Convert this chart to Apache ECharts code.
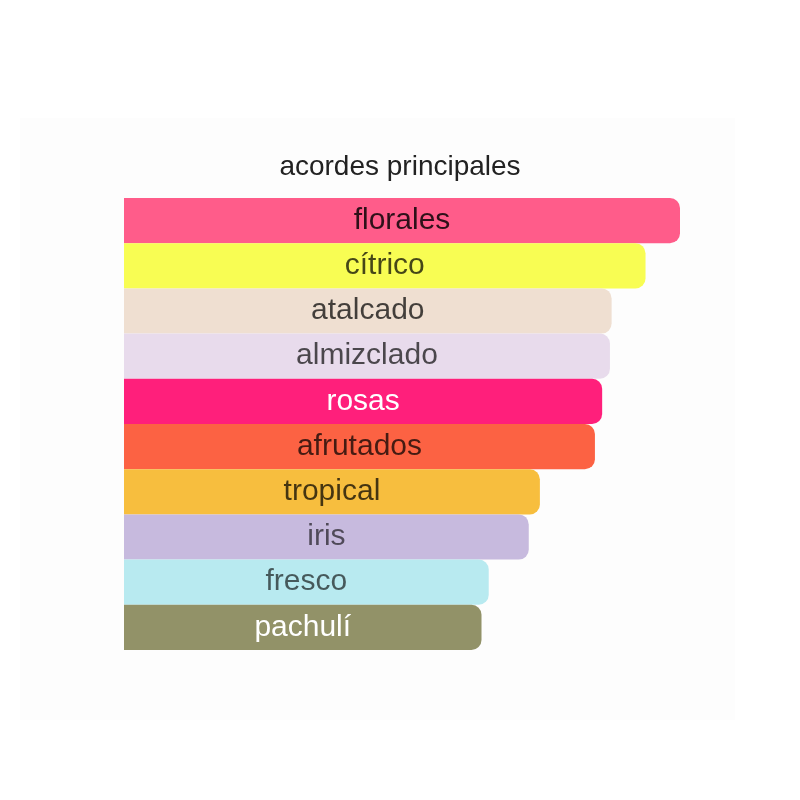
<!DOCTYPE html>
<html>
<head>
<meta charset="utf-8">
<script src="https://cdn.jsdelivr.net/npm/echarts@6/dist/echarts.min.js"></script>
<style>
  html, body { margin: 0; padding: 0; background: #ffffff; }
  #chart { width: 800px; height: 800px; }
</style>
</head>
<body>
<div id="chart"></div>
<script>
const titleText = 'acordes principales';
const categories = ['florales', 'cítrico', 'atalcado', 'almizclado', 'rosas', 'afrutados', 'tropical', 'iris', 'fresco', 'pachulí'];
const values = [100, 93.8, 87.7, 87.4, 86.0, 84.7, 74.8, 72.8, 65.6, 64.3];
const barColors = ['#FF5C8A', '#F8FD53', '#EFDFD1', '#E8DBEC', '#FF1F7B', '#FC6243', '#F7BE3E', '#C7BADE', '#B8EAF0', '#929268'];
const labelColors = ['rgba(0,0,0,0.82)', 'rgba(0,0,0,0.72)', 'rgba(0,0,0,0.72)', 'rgba(0,0,0,0.68)', '#ffffff', 'rgba(0,0,0,0.72)', 'rgba(0,0,0,0.72)', 'rgba(0,0,0,0.6)', 'rgba(0,0,0,0.62)', '#ffffff'];

const chart = echarts.init(document.getElementById('chart'), null, { renderer: 'canvas' });

const data = values.map((v, i) => ({
  value: v,
  itemStyle: { color: barColors[i] },
  label: { color: labelColors[i] }
}));

chart.setOption({
  backgroundColor: '#ffffff',
  animation: false,
  graphic: [{
    type: 'rect',
    z: -10,
    shape: { x: 20, y: 118, width: 715, height: 602 },
    style: { fill: '#fdfdfd' }
  }],
  title: {
    text: titleText,
    left: 'center',
    top: 148,
    textStyle: { fontFamily: '"Liberation Sans", Arial, sans-serif', fontSize: 28, fontWeight: 'normal', color: '#222222' }
  },
  grid: { left: 124, top: 198, width: 556, height: 452, containLabel: false },
  xAxis: { type: 'value', min: 0, max: 100, show: false },
  yAxis: { type: 'category', data: categories, inverse: true, show: false },
  series: [{
    type: 'bar',
    data: data,
    barCategoryGap: '0%',
    itemStyle: { borderRadius: [0, 10, 10, 0] },
    label: {
      show: true,
      position: 'inside',
      formatter: p => categories[p.dataIndex],
      fontFamily: '"Liberation Sans", Arial, sans-serif',
      fontSize: 30
    }
  }]
});
</script>
</body>
</html>
